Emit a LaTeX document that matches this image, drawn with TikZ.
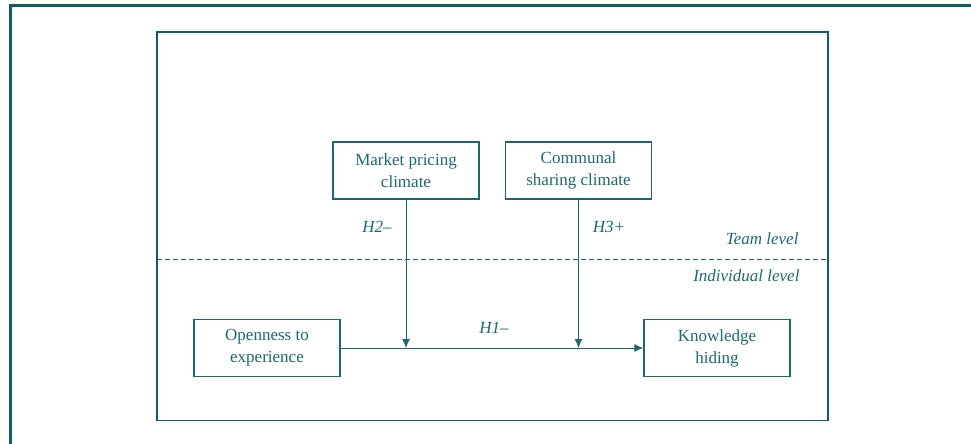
\documentclass[tikz,border=0pt]{standalone}
\usepackage{fontspec}
\setmainfont{Liberation Serif}
\usetikzlibrary{shapes,arrows.meta}

\definecolor{frameteal}{HTML}{0E5F62}
\definecolor{boxteal}{HTML}{1A6A6A}

\tikzset{
  varbox/.style={draw=boxteal, line width=1.3pt, text=boxteal, minimum width=146pt,
    minimum height=57pt, align=center, font=\fontsize{17}{22}\selectfont},
  hyp/.style={text=boxteal, font=\fontsize{17}{22}\selectfont\itshape},
  link/.style={draw=boxteal, line width=0.9pt, ->}
}

\begin{document}
\begin{tikzpicture}[>={Latex[length=9pt,width=8pt]}, x=1pt, y=-1pt]
  \useasboundingbox (0,0) rectangle (971,444);

  % outer frame and model area
  \draw [frameteal, line width=3pt] (10.5,444)--(10.5,5.5)--(971,5.5);
  \draw [frameteal, line width=1.5pt] (157,32) rectangle (828,420.5);
  \draw [boxteal, line width=0.9pt, dash pattern=on 5pt off 3pt] (157,259)--(828,259);

  \node[varbox] (mpc) at (406,170.5) {Market pricing\\climate};
  \node[varbox] (csc) at (578.5,170.5) {Communal\\sharing climate};
  \node[varbox] (ote) at (267,348) {Openness to\\experience};
  \node[varbox] (kh) at (717,348) {Knowledge\\hiding};

  \node[hyp, anchor=east] (team) at (802,239) {Team level};
  \node[hyp, anchor=east] (indiv) at (803,276) {Individual level};

  \draw[link] (ote.east) -- (kh.west);
  \draw[link] (mpc.south) -- (mpc.south |- ote.east);
  \draw[link] (csc.south) -- (csc.south |- ote.east);

  \node[hyp] (h1) at (494,328) {H1–};
  \node[hyp] (h2) at (377,227) {H2–};
  \node[hyp] (h3) at (609,227) {H3+};
\end{tikzpicture}
\end{document}
